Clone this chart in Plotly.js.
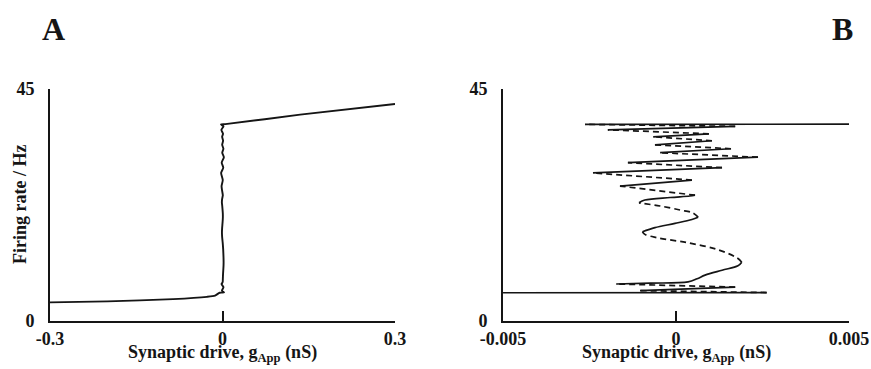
<!DOCTYPE html>
<html>
<head>
<meta charset="utf-8">
<script src="https://cdn.plot.ly/plotly-3.0.1.min.js"></script>
<style>html,body{margin:0;padding:0;background:#fff;}#chart{width:871px;height:369px;}</style>
</head>
<body>
<div id="chart"></div>
<script>
// Panel A: lower branch and upper branch of firing rate vs drive
const aLowG    = [-0.3, -0.2, -0.086, -0.027, -0.013];
const aLowRate = [3.61, 3.80, 4.25, 4.69, 4.92];
const aHighG    = [0.135, 0.3];
const aHighRate = [40.02, 42.1];

// Panel B: snaking branch (zoom around g = 0), points in order from bottom to top
const snakeG = [
  -0.00500, 0.00262, -0.00104, 0.00171, -0.00173,
  -0.00075, 0.00035, 0.00061, 0.00084, 0.00133, 0.00179, 0.00190,
  0.00176, 0.00118, 0.00032, -0.00055, -0.00090, -0.00097,
  -0.00061, -0.00003, 0.00046, 0.00064,
  0.00049, 0.00012, -0.00046, -0.00095, -0.00107,
  -0.00090, -0.00017, 0.00040, 0.00055,
  -0.00162, 0.00046, -0.00240, 0.00133, -0.00139, 0.00237,
  -0.00046, 0.00159, -0.00061, 0.00104, -0.00066, 0.00095,
  -0.00197, 0.00171, -0.00263, 0.00500
];
const snakeRate = [
  5.48, 5.52, 5.89, 6.57, 7.18,
  7.34, 7.60, 8.20, 8.90, 9.85, 10.70, 11.40,
  12.26, 13.90, 15.20, 16.16, 16.80, 17.30,
  18.10, 18.93, 19.70, 20.14,
  20.95, 21.53, 22.31, 22.79, 22.92,
  23.46, 23.95, 24.25, 24.40,
  26.17, 27.33, 28.72, 29.74, 30.71, 31.77,
  32.64, 33.41, 34.18, 34.96, 35.73, 36.31,
  37.08, 37.76, 38.14, 38.18
];
// indices of turning points (segment ends); segments alternate stable (solid) / unstable (dashed)
const snakeBreaks = [0, 1, 2, 3, 4, 11, 17, 21, 26, 30, 31, 32, 33, 34, 35, 36, 37, 38, 39, 40, 41, 42, 43, 44, 45, 46];

const xTicksA = [-0.3, 0, 0.3], xTextA = ['-0.3', '0', '0.3'];
const xTicksB = [-0.005, 0, 0.005], xTextB = ['-0.005', '0', '0.005'];
const yTicks = [0, 45], yText = ['0', '45'];
const xTitle = 'Synaptic drive, g<sub>App</sub> (nS)';
const yTitle = 'Firing rate / Hz';

const ink = '#151515';
const traces = [];

// Panel A: full curve
traces.push({
  x: aLowG.concat(snakeG, aHighG),
  y: aLowRate.concat(snakeRate, aHighRate),
  type: 'scatter', mode: 'lines', xaxis: 'x', yaxis: 'y',
  line: {color: ink, width: 1.9, shape: 'spline', smoothing: 0.6}, showlegend: false, hoverinfo: 'skip'
});

// Panel B: segments
for (let i = 0; i < snakeBreaks.length - 1; i++) {
  const a = snakeBreaks[i], b = snakeBreaks[i + 1];
  traces.push({
    x: snakeG.slice(a, b + 1), y: snakeRate.slice(a, b + 1),
    type: 'scatter', mode: 'lines', xaxis: 'x2', yaxis: 'y2',
    line: {color: ink, width: 1.7, dash: (i % 2 === 0) ? 'solid' : '6px,4px', shape: 'spline', smoothing: 1},
    showlegend: false, hoverinfo: 'skip'
  });
}

const fam = '"Liberation Serif", "Times New Roman", serif';
const tickF = {family: fam, size: 18, color: ink, weight: 'bold'};
const titleF = {family: fam, size: 18, color: ink, weight: 'bold'};

function xax(domain, range, tv, tt) {
  return {
    domain: domain, range: range, showgrid: false, zeroline: false,
    showline: true, linecolor: ink, linewidth: 2,
    ticks: 'inside', ticklen: 10, tickwidth: 2, tickcolor: ink,
    tickvals: tv, ticktext: tt, tickfont: tickF, ticklabelstandoff: 0,
    fixedrange: true, automargin: false
  };
}
function yax(anchor) {
  return {
    domain: [0, 1], range: [0, 45], anchor: anchor, showgrid: false, zeroline: false,
    showline: true, linecolor: ink, linewidth: 2,
    ticks: 'inside', ticklen: 13, tickwidth: 2, tickcolor: ink,
    tickvals: yTicks, ticktext: yText, tickfont: tickF, ticklabelstandoff: 10,
    fixedrange: true, automargin: false
  };
}

const layout = {
  width: 871, height: 369,
  margin: {l: 50, r: 22, t: 89, b: 48},
  paper_bgcolor: '#fff', plot_bgcolor: '#fff',
  xaxis: Object.assign(xax([0, 0.4318], [-0.3, 0.3], xTicksA, xTextA), {anchor: 'y'}),
  yaxis: yax('x'),
  xaxis2: Object.assign(xax([0.567, 1], [-0.005, 0.005], xTicksB, xTextB), {anchor: 'y2'}),
  yaxis2: yax('x2'),
  annotations: [
    {text: xTitle, xref: 'x domain', yref: 'paper', x: 0.5, y: -0.2, xanchor: 'center', yanchor: 'bottom',
     showarrow: false, font: titleF},
    {text: xTitle, xref: 'x2 domain', yref: 'paper', x: 0.5, y: -0.2, xanchor: 'center', yanchor: 'bottom',
     showarrow: false, font: titleF},
    {text: yTitle, xref: 'paper', yref: 'paper', x: -0.0375, y: 0.5, textangle: -90,
     xanchor: 'center', yanchor: 'middle', showarrow: false, font: titleF},
    {text: 'A', xref: 'paper', yref: 'paper', x: 0.005, y: 1.26, xanchor: 'center', yanchor: 'middle',
     showarrow: false, font: {family: fam, size: 32, color: ink, weight: 'bold'}},
    {text: 'B', xref: 'paper', yref: 'paper', x: 0.992, y: 1.26, xanchor: 'center', yanchor: 'middle',
     showarrow: false, font: {family: fam, size: 32, color: ink, weight: 'bold'}}
  ]
};

Plotly.newPlot('chart', traces, layout, {staticPlot: true, displayModeBar: false});
</script>
</body>
</html>
